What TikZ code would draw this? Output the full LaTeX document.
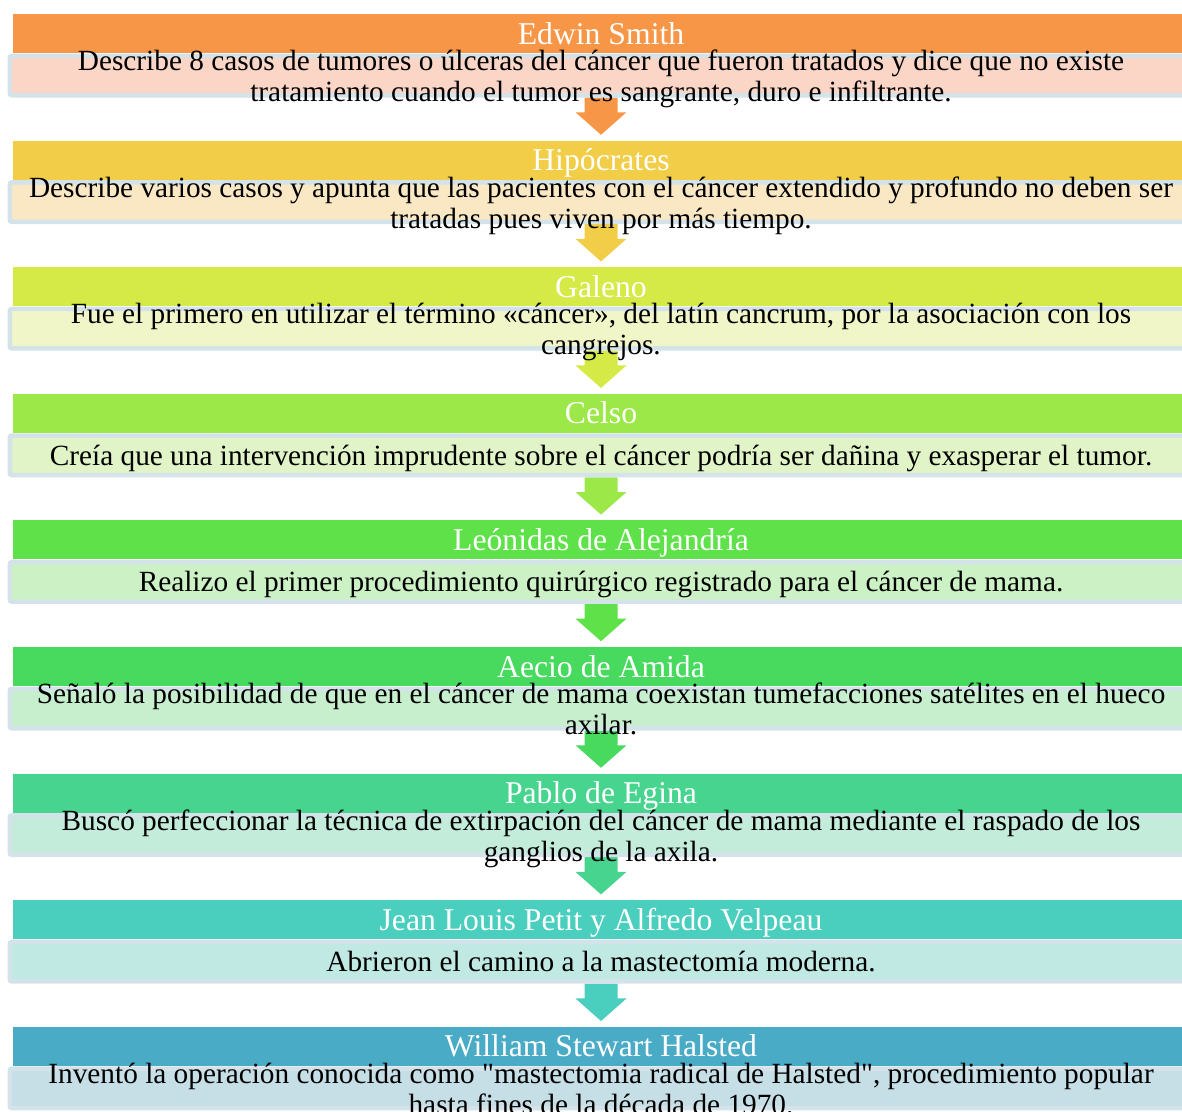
\documentclass[tikz,border=0pt]{standalone}
\usepackage{fontspec}
\setmainfont{Liberation Serif}[Ligatures=TeXOff]
\usetikzlibrary{calc}
\pgfdeclarelayer{bg}
\pgfsetlayers{bg,main}
\definecolor{hA}{HTML}{F79646}\definecolor{bA}{HTML}{FBD5C5}
\definecolor{hB}{HTML}{F2CD47}\definecolor{bB}{HTML}{FAE8C5}
\definecolor{hC}{HTML}{D6EA47}\definecolor{bC}{HTML}{F1F6C8}
\definecolor{hD}{HTML}{9CE849}\definecolor{bD}{HTML}{E0F4C8}
\definecolor{hE}{HTML}{5FE14A}\definecolor{bE}{HTML}{CBF1C5}
\definecolor{hF}{HTML}{47DA5F}\definecolor{bF}{HTML}{C7EFCE}
\definecolor{hG}{HTML}{47D48F}\definecolor{bG}{HTML}{C3ECDA}
\definecolor{hH}{HTML}{4ACEBE}\definecolor{bH}{HTML}{C1E9E4}
\definecolor{hI}{HTML}{4AABC6}\definecolor{bI}{HTML}{C6DEE6}
\definecolor{bordc}{HTML}{D3E3E9}
\tikzset{
  hdr/.style={fill=#1, draw=none, minimum width=1176pt, minimum height=39pt,
    inner sep=0pt, text=white, font=\fontsize{31.7}{36}\selectfont,
    text height=21pt, text depth=0pt},
  bdy/.style={fill=#1, draw=bordc, line width=4.5pt, rounded corners=2pt,
    minimum width=1182.5pt, minimum height=39.5pt, inner sep=0pt},
  btxt/.style={anchor=base, inner sep=0pt, font=\fontsize{29.3}{31}\selectfont, text=black},
}
% #1 id, #2 top, #3 title, #4 body text, #5 header colour, #6 body colour, #7 first baseline offset
\newcommand\mystage[7]{%
  \node[bdy=#6] (b#1) at (601,#2+61.5) {};
  \node[hdr=#5] (h#1) at (601,#2+19.5) {#3};
  \node[btxt] (t#1) at (601,#2+#7) {\begin{tabular}[t]{@{}c@{}}#4\end{tabular}};
}
% #1 from body node, #2 to header node, #3 colour
\newcommand\myarrow[3]{%
  \begin{pgfonlayer}{bg}
  \fill[#3] ($(#1.south)+(-16.5,0)$) -- ($(#1.south)+(-16.5,14.75)$)
    -- ($(#1.south)+(-25.5,14.75)$) -- ($(#2.north)+(0,-5.6)$)
    -- ($(#1.south)+(25.5,14.75)$) -- ($(#1.south)+(16.5,14.75)$)
    -- ($(#1.south)+(16.5,0)$) -- cycle;
  \end{pgfonlayer}
}
\begin{document}
\begin{tikzpicture}[x=1pt,y=-1pt]
\useasboundingbox (0,0) rectangle (1182,1111);
\clip (0,0) rectangle (1182,1111);
\mystage{1}{14}{Edwin Smith}{Describe 8 casos de tumores o úlceras del cáncer que fueron tratados y dice que no existe\\tratamiento cuando el tumor es sangrante, duro e infiltrante.}{hA}{bA}{56.5}
\mystage{2}{140.6}{Hipócrates}{Describe varios casos y apunta que las pacientes con el cáncer extendido y profundo no deben ser\\tratadas pues viven por más tiempo.}{hB}{bB}{56.5}
\mystage{3}{267.2}{Galeno}{Fue el primero en utilizar el término «cáncer», del latín cancrum, por la asociación con los\\cangrejos.}{hC}{bC}{56.5}
\mystage{4}{393.8}{Celso}{Creía que una intervención imprudente sobre el cáncer podría ser dañina y exasperar el tumor.}{hD}{bD}{71.5}
\mystage{5}{520.4}{Leónidas de Alejandría}{Realizo el primer procedimiento quirúrgico registrado para el cáncer de mama.}{hE}{bE}{71.5}
\mystage{6}{647}{Aecio de Amida}{Señaló la posibilidad de que en el cáncer de mama coexistan tumefacciones satélites en el hueco\\axilar.}{hF}{bF}{56.5}
\mystage{7}{773.6}{Pablo de Egina}{Buscó perfeccionar la técnica de extirpación del cáncer de mama mediante el raspado de los\\ganglios de la axila.}{hG}{bG}{56.5}
\mystage{8}{900.2}{Jean Louis Petit y Alfredo Velpeau}{Abrieron el camino a la mastectomía moderna.}{hH}{bH}{71.5}
\mystage{9}{1026.8}{William Stewart Halsted}{Inventó la operación conocida como "mastectomia radical de Halsted", procedimiento popular\\hasta fines de la década de 1970.}{hI}{bI}{56.5}
\myarrow{b1}{h2}{hA}
\myarrow{b2}{h3}{hB}
\myarrow{b3}{h4}{hC}
\myarrow{b4}{h5}{hD}
\myarrow{b5}{h6}{hE}
\myarrow{b6}{h7}{hF}
\myarrow{b7}{h8}{hG}
\myarrow{b8}{h9}{hH}
\end{tikzpicture}
\end{document}
